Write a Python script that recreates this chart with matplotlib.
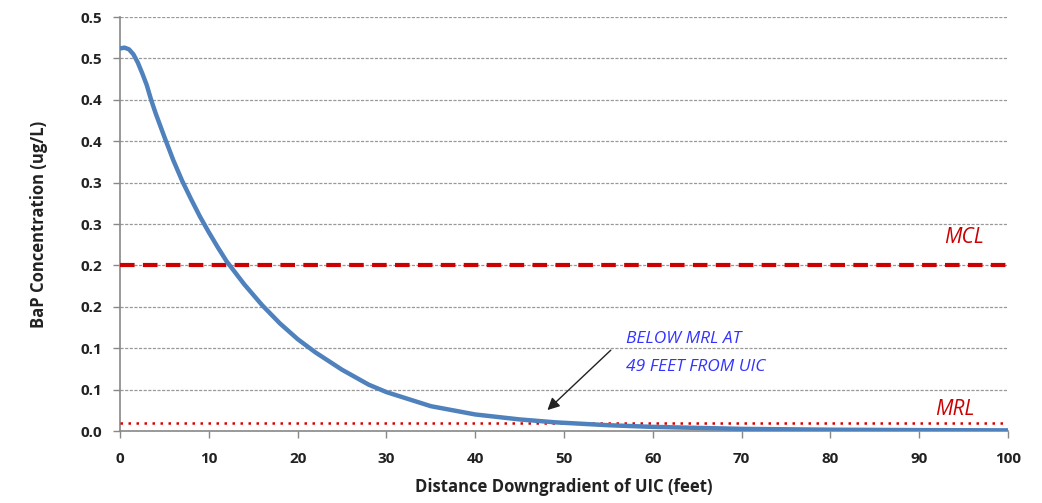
import matplotlib

matplotlib.use("Agg")
import matplotlib.pyplot as plt

# BaP concentration vs distance downgradient
distance_ft = [0, 0.5, 1, 1.5, 2, 2.5, 3, 3.5, 4, 5, 6, 7, 8, 9, 10, 11, 12, 14, 16, 18,
               20, 22, 25, 28, 30, 35, 40, 45, 49, 55, 60, 70, 80, 90, 100]
bap_ugl = [0.462, 0.463, 0.461, 0.455, 0.445, 0.432, 0.418, 0.400, 0.384, 0.355, 0.327,
           0.302, 0.280, 0.259, 0.240, 0.222, 0.205, 0.177, 0.152, 0.130, 0.111, 0.095,
           0.074, 0.056, 0.047, 0.030, 0.020, 0.014, 0.0105, 0.007, 0.005, 0.0026, 0.0016,
           0.0011, 0.0008]

mcl = 0.2
mrl = 0.01

y_ticks = [0, 0.05, 0.1, 0.15, 0.2, 0.25, 0.3, 0.35, 0.4, 0.45, 0.5]
y_tick_labels = ["0.0", "0.1", "0.1", "0.2", "0.2", "0.3", "0.3", "0.4", "0.4", "0.5", "0.5"]
x_ticks = [0, 10, 20, 30, 40, 50, 60, 70, 80, 90, 100]

plt.rcParams["font.family"] = ["Open Sans", "DejaVu Sans"]

fig = plt.figure(figsize=(10.42, 5.03), dpi=100)
ax = fig.add_axes([0.1152, 0.1431, 0.8522, 0.8231])

for y in y_ticks[1:]:
    ax.axhline(y, color="#999999", lw=0.9, ls=(0, (2.5, 1.2)), zorder=1)

ax.axhline(mcl, color="#cc0000", lw=3, ls=(0, (3.5, 2)), zorder=3)
ax.axhline(mrl, color="#dd0000", lw=1.8, ls=(0, (1, 2.2)), zorder=3)
ax.plot(distance_ft, bap_ugl, color="#4f81bd", lw=3.2, zorder=4, solid_capstyle="round")

ax.text(97.3, 0.234, "MCL", color="#cc0000", style="italic", fontsize=15,
        ha="right", va="center")
ax.text(96.2, 0.026, "MRL", color="#cc0000", style="italic", fontsize=15,
        ha="right", va="center")

ax.annotate("", xy=(47.9, 0.023), xytext=(55.5, 0.1),
            arrowprops=dict(arrowstyle="-|>", color="#222222", lw=1, mutation_scale=18),
            zorder=5)
ax.text(57.0, 0.111, "BELOW MRL AT", color="#3333ff", style="italic", fontsize=12.5,
        ha="left", va="center")
ax.text(57.0, 0.077, "49 FEET FROM UIC", color="#3333ff", style="italic", fontsize=12.5,
        ha="left", va="center")

ax.set_xlim(0, 100)
ax.set_ylim(0, 0.5)
ax.set_xticks(x_ticks)
ax.set_xticklabels([str(t) for t in x_ticks], fontsize=11, fontweight="bold", color="#222222")
ax.set_yticks(y_ticks)
ax.set_yticklabels(y_tick_labels, fontsize=11, fontweight="bold", color="#222222")
ax.tick_params(axis="x", direction="out", length=5, width=1, color="#888888", pad=10)
ax.tick_params(axis="y", direction="out", length=5, width=1, color="#888888", pad=8)

for side in ("top", "right"):
    ax.spines[side].set_visible(False)
for side in ("left", "bottom"):
    ax.spines[side].set_color("#888888")
    ax.spines[side].set_linewidth(1.2)

ax.set_xlabel("Distance Downgradient of UIC (feet)", fontsize=12, fontweight="bold",
              color="#222222", labelpad=9)
ax.set_ylabel("BaP Concentration (ug/L)", fontsize=12, fontweight="bold",
              color="#222222", labelpad=23)

fig.savefig("out.png", dpi=100)
